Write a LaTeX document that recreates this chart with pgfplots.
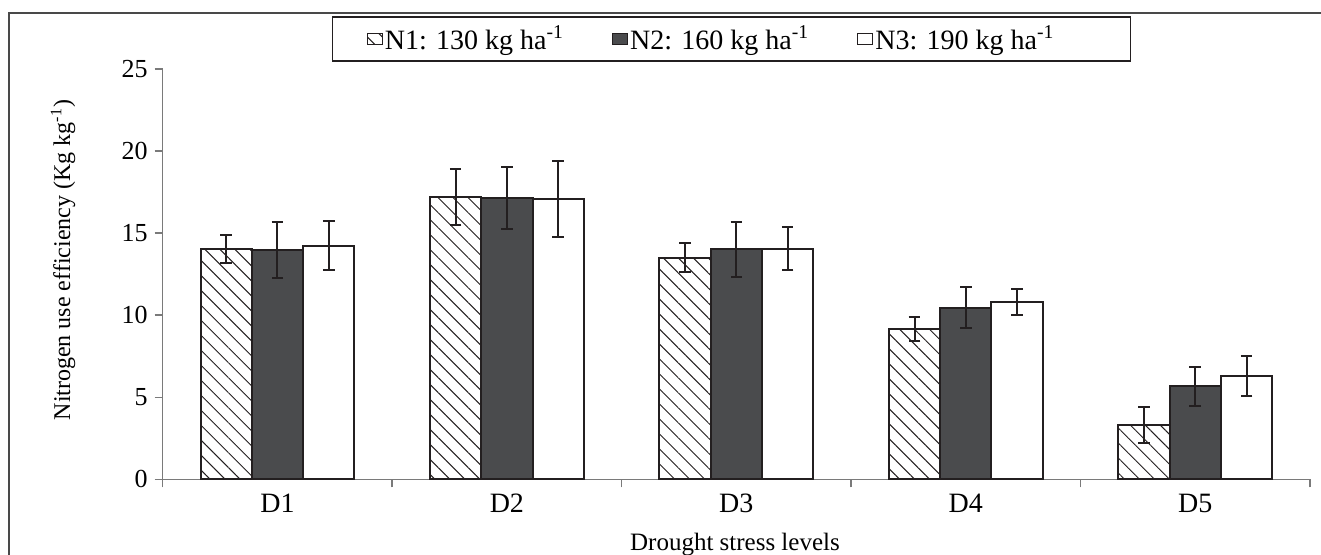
\documentclass[border=0pt]{standalone}
\usepackage{fontspec}
\setmainfont{Liberation Serif}
\usepackage{pgfplots}
\usepackage{pgfplotstable}
\pgfplotsset{compat=1.18}
\usetikzlibrary{patterns.meta}
\definecolor{barblack}{HTML}{231F20}
\definecolor{bardark}{HTML}{4A4B4D}
\definecolor{axgray}{HTML}{7A7A7A}

\pgfplotstableread{
x n1 e1 n2 e2 n3 e3
0 14.05 0.85 13.96 1.70 14.23 1.48
1 17.19 1.73 17.13 1.89 17.07 2.33
2 13.50 0.87 14.00 1.70 14.05 1.30
3 9.15 0.73 10.45 1.24 10.80 0.80
4 3.31 1.07 5.66 1.20 6.29 1.22
}\data

\begin{document}
\begin{tikzpicture}
\useasboundingbox (-81.35pt,-37.35pt) rectangle (579.15pt,239.65pt);
\begin{axis}[
  scale only axis, width=573.65pt, height=205.25pt,
  xmin=-0.5, xmax=4.5, ymin=0, ymax=25,
  axis lines*=left,
  axis line style={axgray, line width=0.7pt},
  ybar, bar width=0.2235,
  xtick={-0.5,0.5,1.5,2.5,3.5,4.5},
  xticklabels={D1,D2,D3,D4,D5},
  x tick label as interval,
  ytick={0,5,10,15,20,25},
  tick align=outside,
  major tick length=4pt,
  tick style={axgray, line width=0.7pt},
  /pgf/number format/assume math mode=true,
  yticklabel style={font=\fontsize{13}{15}\selectfont},
  xticklabel style={font=\fontsize{14}{16}\selectfont},
  xlabel={Drought stress levels},
  xlabel style={at={(axis description cs:0.4988,-0.158)}, anchor=center, font=\fontsize{12.5}{14}\selectfont},
  ylabel={Nitrogen use efficiency (Kg kg\textsuperscript{-1})},
  ylabel style={at={(axis description cs:-0.0869,0.534)}, anchor=center, font=\fontsize{12}{14}\selectfont},
  legend columns=3,
  legend cell align=left,
  legend image code/.code={\draw[#1, line width=0.6pt] (0pt,-2.75pt) rectangle (7.5pt,2.75pt);},
  legend style={at={(rel axis cs:0.4958,1.0726)}, anchor=center, draw=barblack, line width=0.7pt,
    font=\fontsize{14}{16}\selectfont, inner xsep=17pt, inner ysep=2.5pt, column sep=-1pt,
    /tikz/every even column/.append style={column sep=22pt}},
  error bars/y dir=both,
  error bars/y explicit,
  error bars/error bar style={line width=1pt, barblack},
  error bars/error mark options={rotate=90, mark size=2.9pt, line width=1pt, barblack},
]
\addplot[draw=barblack, line width=1pt, pattern={Lines[angle=-45,distance=5.3pt,line width=0.5pt]}, pattern color=barblack, bar shift=-0.2235]
  table[x=x, y=n1, y error=e1]{\data};
\addplot[draw=barblack, line width=1pt, fill=bardark, bar shift=0]
  table[x=x, y=n2, y error=e2]{\data};
\addplot[draw=barblack, line width=1pt, fill=white, bar shift=0.2235]
  table[x=x, y=n3, y error=e3]{\data};
\legend{N1: 130 kg ha\textsuperscript{-1}, N2: 160 kg ha\textsuperscript{-1}, N3: 190 kg ha\textsuperscript{-1}\rule{19pt}{0pt}}
\end{axis}
\draw[axgray!60!black, line width=1pt] (-76.85pt,-60pt) rectangle (700pt,233.15pt);
\end{tikzpicture}
\end{document}
